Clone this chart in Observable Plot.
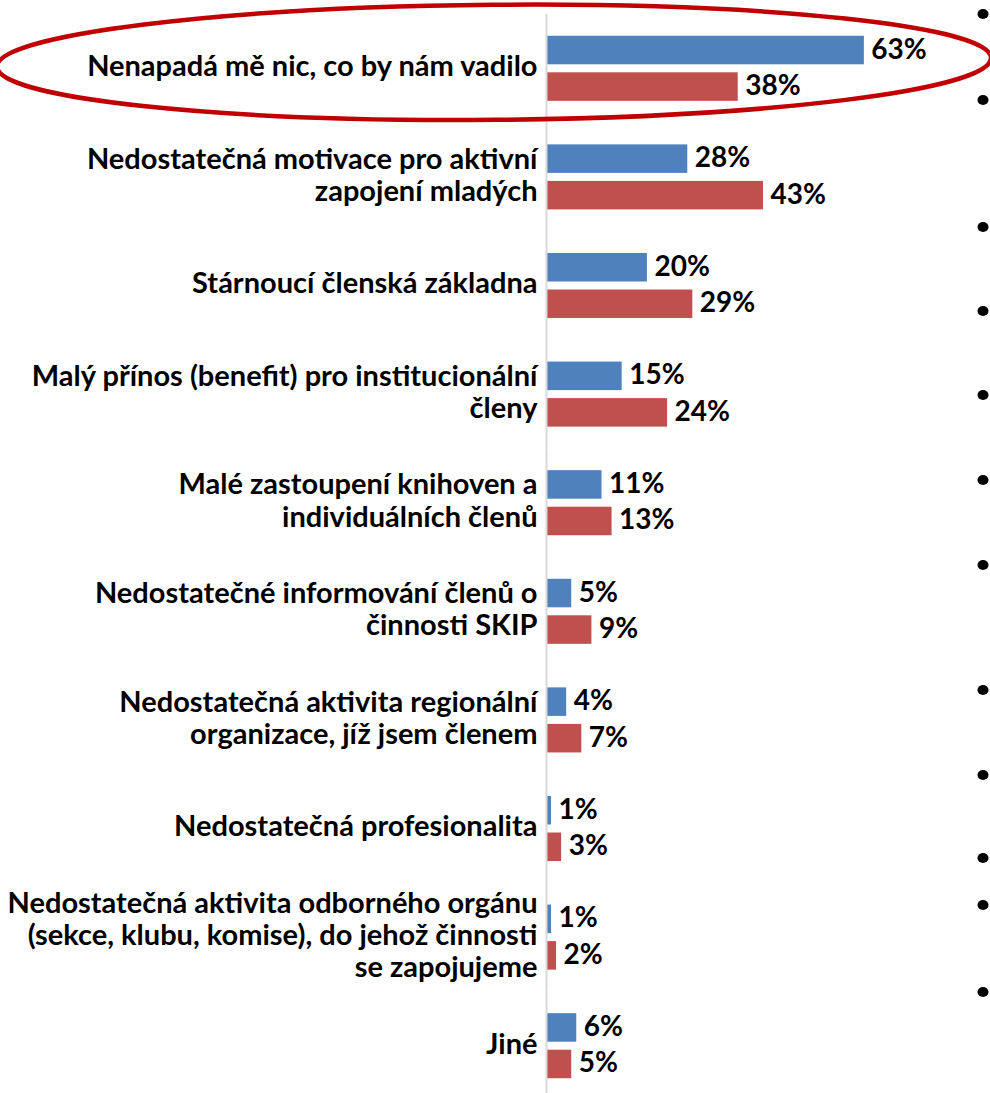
<!DOCTYPE html>
<html>
<head>
<meta charset="utf-8">
<script src="https://cdn.jsdelivr.net/npm/d3@7"></script>
<script src="https://cdn.jsdelivr.net/npm/@observablehq/plot@0.6"></script>
<style>
  html, body { margin: 0; padding: 0; background: #fff; overflow: hidden; }
  #chart { position: relative; width: 990px; height: 1093px; }
  #chart svg { display: block; }
</style>
</head>
<body>
<div id="chart"></div>
<script>
// ---- data ----
const categories = [
  "Nenapadá mě nic, co by nám vadilo",
  "Nedostatečná motivace pro aktivní\nzapojení mladých",
  "Stárnoucí členská základna",
  "Malý přínos (benefit) pro institucionální\nčleny",
  "Malé zastoupení knihoven a\nindividuálních členů",
  "Nedostatečné informování členů o\nčinnosti SKIP",
  "Nedostatečná aktivita regionální\norganizace, jíž jsem členem",
  "Nedostatečná profesionalita",
  "Nedostatečná aktivita odborného orgánu\n(sekce, klubu, komise), do jehož činnosti\nse zapojujeme",
  "Jiné"
];
const seriesNames = ["řada 1", "řada 2"];
const blueValues = [63, 28, 20, 15, 11, 5, 4, 1, 1, 6];
const redValues  = [38, 43, 29, 24, 13, 9, 7, 3, 2, 5];
// decorative bullet points of the slide text box (page rows, px)
const bulletRows = [14, 100, 227, 311, 395, 480, 565, 690, 775, 858, 905, 992];

const rows = [];
categories.forEach((c, i) => {
  rows.push({cat: c, series: seriesNames[0], value: blueValues[i]});
  rows.push({cat: c, series: seriesNames[1], value: redValues[i]});
});
const catRows = categories.map(c => ({cat: c}));

const FONT = "Lato, 'Open Sans', sans-serif";
const W = 990;

const plot = Plot.plot({
  width: W,
  height: 1100,
  marginLeft: 546,
  marginRight: 0,
  marginTop: 14,
  marginBottom: 0,
  style: {fontFamily: FONT, background: "#fff"},
  x: {domain: [0, 88], axis: null},
  fy: {domain: categories, padding: 0, round: false, axis: null},
  y: {domain: seriesNames, paddingInner: 0.219, paddingOuter: 0.596, round: false, axis: null},
  color: {domain: seriesNames, range: ["#4f81bd", "#c0504d"]},
  marks: [
    Plot.barX(rows, {fy: "cat", y: "series", x: "value", fill: "series"}),
    Plot.ruleX([0], {stroke: "#d9d9d9", strokeWidth: 2}),
    Plot.text(rows, {
      fy: "cat", y: "series", x: "value", text: d => d.value + "%",
      textAnchor: "start", dx: 7, dy: -1, fontSize: 28, fontWeight: "bold", fill: "#000"
    }),
    Plot.text(catRows, {
      fy: "cat", x: 0, text: "cat", textAnchor: "end", dx: -9, dy: -3,
      fontSize: 29, fontWeight: "bold", fill: "#000", lineHeight: 1.12
    })
  ]
});
document.getElementById("chart").appendChild(plot);

// annotation ellipse around first category + slide bullets
const svg = d3.select(plot);
const fy = plot.scale("fy");
const band0 = fy.apply(categories[0]);
const bw = fy.bandwidth;
const cx = W / 2 - 1;
const cy = band0 + bw / 2 - 6;
svg.append("ellipse")
  .attr("cx", cx).attr("cy", cy)
  .attr("rx", 497).attr("ry", 57.5)
  .attr("transform", `rotate(-0.5 ${cx} ${cy})`)
  .attr("fill", "none").attr("stroke", "#c00000").attr("stroke-width", 4.5);
svg.append("g").selectAll("ellipse").data(bulletRows).join("ellipse")
  .attr("cx", 983).attr("cy", d => d)
  .attr("rx", 5.5).attr("ry", 5)
  .attr("fill", "#000");
</script>
</body>
</html>
